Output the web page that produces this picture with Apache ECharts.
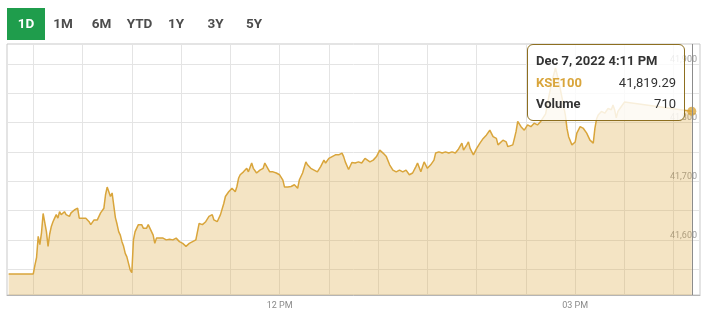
<!DOCTYPE html>
<html>
<head>
<meta charset="utf-8">
<script src="https://cdn.jsdelivr.net/npm/echarts@6/dist/echarts.min.js"></script>
<style>
html,body{margin:0;padding:0;background:#fff;}
#chart{width:717px;height:319px;}
</style>
</head>
<body>
<div id="chart"></div>
<script>
// ---- data (Dec 7, 2022 intraday KSE100) ----
const seriesName = 'KSE100';
const dateLabel = 'Dec 7, 2022';
const lastVolume = 710;
const rangeButtons = ['1D', '1M', '6M', 'YTD', '1Y', '3Y', '5Y'];
const xLabelTimes = ['12:00', '15:00'];
const xLabelTexts = ['12 PM', '03 PM'];
const yLabelValues = [41600, 41700, 41800, 41900];
const times = [
 '09:15','09:30','09:31','09:32','09:33','09:34','09:35','09:36','09:37','09:38','09:39','09:40',
 '09:41','09:42','09:43','09:44','09:45','09:46','09:47','09:48','09:49','09:50','09:51','09:52',
 '09:53','09:54','09:55','09:56','09:57','09:58','09:59','10:00','10:01','10:02','10:03','10:04',
 '10:05','10:06','10:07','10:08','10:09','10:10','10:11','10:12','10:13','10:14','10:15','10:16',
 '10:17','10:18','10:19','10:20','10:21','10:22','10:23','10:24','10:25','10:26','10:27','10:28',
 '10:29','10:30','10:31','10:32','10:33','10:34','10:35','10:36','10:37','10:38','10:39','10:40',
 '10:41','10:42','10:43','10:44','10:45','10:46','10:49','10:51','10:53','10:55','10:57','10:59',
 '11:01','11:03','11:05','11:07','11:09','11:11','11:13','11:15','11:17','11:19','11:20','11:22',
 '11:24','11:26','11:27','11:29','11:31','11:33','11:34','11:35','11:36','11:38','11:39','11:40',
 '11:41','11:43','11:44','11:46','11:48','11:50','11:51','11:52','11:54','11:56','11:58','12:00',
 '12:02','12:03','12:05','12:07','12:09','12:11','12:12','12:14','12:16','12:17','12:19','12:21',
 '12:23','12:25','12:27','12:28','12:30','12:32','12:34','12:36','12:38','12:39','12:40','12:42',
 '12:44','12:46','12:48','12:50','12:52','12:55','12:57','12:59','13:01','13:03','13:05','13:07',
 '13:09','13:11','13:13','13:15','13:17','13:19','13:21','13:23','13:24','13:26','13:28','13:30',
 '13:32','13:34','13:35','13:37','13:39','13:41','13:43','13:45','13:47','13:49','13:51','13:52',
 '13:54','13:55','13:56','13:58','14:00','14:02','14:04','14:06','14:07','14:08','14:10','14:12',
 '14:13','14:14','14:16','14:18','14:19','14:22','14:23','14:24','14:25','14:27','14:29','14:31',
 '14:33','14:35','14:37','14:39','14:40','14:42','14:44','14:46','14:48','14:50','14:52','14:54',
 '14:55','14:56','14:58','15:00','15:01','15:03','15:05','15:07','15:09','15:11','15:12','15:13',
 '15:14','15:16','15:18','15:20','15:22','15:23','15:24','15:25','15:26','15:28','15:30','16:11'
];
const kse100 = [
 41542,41542,41557,41570,41606,41592,41612,41645,41648,41614,41589,41610,
 41623,41631,41637,41643,41637,41648,41643,41646,41648,41643,41646,41640,
 41646,41648,41651,41654,41654,41637,41640,41637,41634,41637,41634,41631,
 41626,41628,41634,41637,41634,41640,41646,41648,41654,41677,41690,41682,
 41674,41680,41678,41638,41627,41614,41608,41597,41589,41577,41571,41560,
 41549,41544,41600,41614,41620,41626,41624,41626,41620,41623,41620,41626,
 41624,41614,41608,41594,41603,41606,41603,41600,41601,41600,41603,41597,
 41594,41589,41594,41597,41600,41628,41626,41631,41640,41643,41634,41631,
 41643,41662,41674,41682,41688,41682,41691,41705,41711,41716,41714,41722,
 41716,41731,41722,41714,41719,41722,41731,41728,41716,41716,41714,41711,
 41702,41690,41690,41691,41694,41688,41702,41714,41733,41728,41722,41719,
 41716,41725,41736,41731,41739,41742,41745,41745,41748,41742,41733,41720,
 41732,41731,41733,41731,41739,41733,41736,41742,41753,41748,41742,41728,
 41719,41716,41719,41716,41719,41711,41714,41725,41731,41716,41733,41722,
 41728,41736,41748,41750,41748,41750,41748,41750,41748,41755,41765,41753,
 41762,41767,41756,41745,41756,41765,41773,41779,41782,41787,41776,41773,
 41762,41765,41770,41767,41759,41762,41773,41785,41802,41793,41787,41796,
 41793,41799,41796,41802,41804,41815,41845,41872,41893,41870,41842,41813,
 41790,41776,41762,41767,41782,41793,41790,41782,41770,41765,41790,41806,
 41813,41819,41816,41824,41822,41830,41822,41808,41819,41827,41835,41819.29
];

// ---- helpers ----
function toMin(t) { const p = t.split(':'); return (+p[0]) * 60 + (+p[1]); }
function fmtTime12(t) {
  const m = toMin(t); let h = Math.floor(m / 60); const mm = m % 60;
  const ap = h >= 12 ? 'PM' : 'AM'; h = h % 12; if (h === 0) h = 12;
  return h + ':' + String(mm).padStart(2, '0') + ' ' + ap;
}
const lineData = times.map((t, i) => [toMin(t), kse100[i]]);
const lastIdx = times.length - 1;
const xTickValues = [];
for (let m = toMin('09:30'); m <= toMin('16:00'); m += 30) xTickValues.push(m);
const yTickValues = [];
for (let v = 41550; v <= 41900; v += 50) yTickValues.push(v);
const xLabelMins = xLabelTimes.map(toMin);

const GOLD = '#d9a53b';
const FONT = 'Roboto, "Noto Sans", sans-serif';

const chart = echarts.init(document.getElementById('chart'), null, { renderer: 'canvas' });

const buttonGraphics = [];
const btnCenters = [26, 63, 101.5, 139.5, 176, 215.5, 254];
rangeButtons.forEach((b, i) => {
  if (i === 0) {
    buttonGraphics.push({ type: 'rect', left: 7, top: 8, shape: { width: 38, height: 32 }, style: { fill: '#1f9d4c' }, z: 10 });
  }
  buttonGraphics.push({
    type: 'text', x: btnCenters[i], y: 24.5, z: 11,
    style: { text: b, fill: i === 0 ? '#ffffff' : '#4d4d4d', font: 'bold 13.5px ' + FONT, align: 'center', verticalAlign: 'middle' }
  });
});

chart.setOption({
  animation: false,
  textStyle: { fontFamily: FONT },
  grid: { left: 7, right: 17, top: 44, bottom: 24, show: true, borderColor: '#c9c9c9', borderWidth: 1, backgroundColor: 'transparent' },
  graphic: buttonGraphics,
  xAxis: {
    type: 'value', min: 554, max: 976,
    axisLine: { show: true, lineStyle: { color: '#b5b5b5' } },
    axisTick: { show: false, customValues: xTickValues },
    splitLine: { show: true, lineStyle: { color: '#e4e4e4', width: 1 } },
    axisLabel: {
      customValues: xLabelMins, color: '#8a8a8a', fontSize: 9, margin: 6,
      formatter: v => { const k = xLabelMins.indexOf(v); return k >= 0 ? xLabelTexts[k] : ''; }
    }
  },
  yAxis: {
    type: 'value', position: 'right', min: 41506, max: 41934, scale: true,
    axisLine: { show: false },
    axisTick: { show: false, customValues: yTickValues },
    splitLine: { show: true, lineStyle: { color: '#e4e4e4', width: 1 } },
    axisLabel: {
      customValues: yLabelValues, inside: true, margin: 3, color: '#9a9a9a', fontSize: 9,
      verticalAlign: 'bottom',
      formatter: v => v.toLocaleString('en-US')
    }
  },
  tooltip: {
    trigger: 'axis', show: true, alwaysShowContent: true, triggerOn: 'none',
    transitionDuration: 0, showDelay: 0, hideDelay: 0,
    position: [527, 44],
    backgroundColor: 'rgba(255,255,255,0.82)',
    borderColor: '#8d6f20', borderWidth: 1.5, padding: [5, 8],
    extraCssText: 'box-shadow:none;border-radius:6px;width:140px;',
    axisPointer: { type: 'line', lineStyle: { color: '#8c8c8c', width: 1, type: 'solid' }, label: { show: false } },
    formatter: params => {
      const i = params[0].dataIndex;
      const row = 'display:flex;justify-content:space-between;line-height:21.5px;font-size:13px;font-family:Roboto,sans-serif;';
      return '<div style="' + row + 'font-weight:bold;color:#333;">' + dateLabel + ' ' + fmtTime12(times[i]) + '</div>' +
        '<div style="' + row + '"><span style="color:' + GOLD + ';font-weight:bold;">' + seriesName + '</span><span style="color:#333;">' +
        kse100[i].toLocaleString('en-US', { minimumFractionDigits: 2, maximumFractionDigits: 2 }) + '</span></div>' +
        '<div style="' + row + '"><span style="color:#333;font-weight:bold;">Volume</span><span style="color:#333;">' + lastVolume + '</span></div>';
    }
  },
  series: [
    {
      name: seriesName, type: 'line', data: lineData, symbol: 'none', showSymbol: false,
      lineStyle: { color: GOLD, width: 1.5 },
      areaStyle: { color: GOLD, opacity: 0.3, origin: 'start' },
      emphasis: { disabled: true }, z: 2
    },
    {
      name: 'last', type: 'scatter', data: [lineData[lastIdx]], symbol: 'circle', symbolSize: 9,
      itemStyle: { color: GOLD }, z: 5, silent: true, emphasis: { disabled: true }
    }
  ]
});

chart.dispatchAction({ type: 'showTip', seriesIndex: 0, dataIndex: lastIdx });
</script>
</body>
</html>
